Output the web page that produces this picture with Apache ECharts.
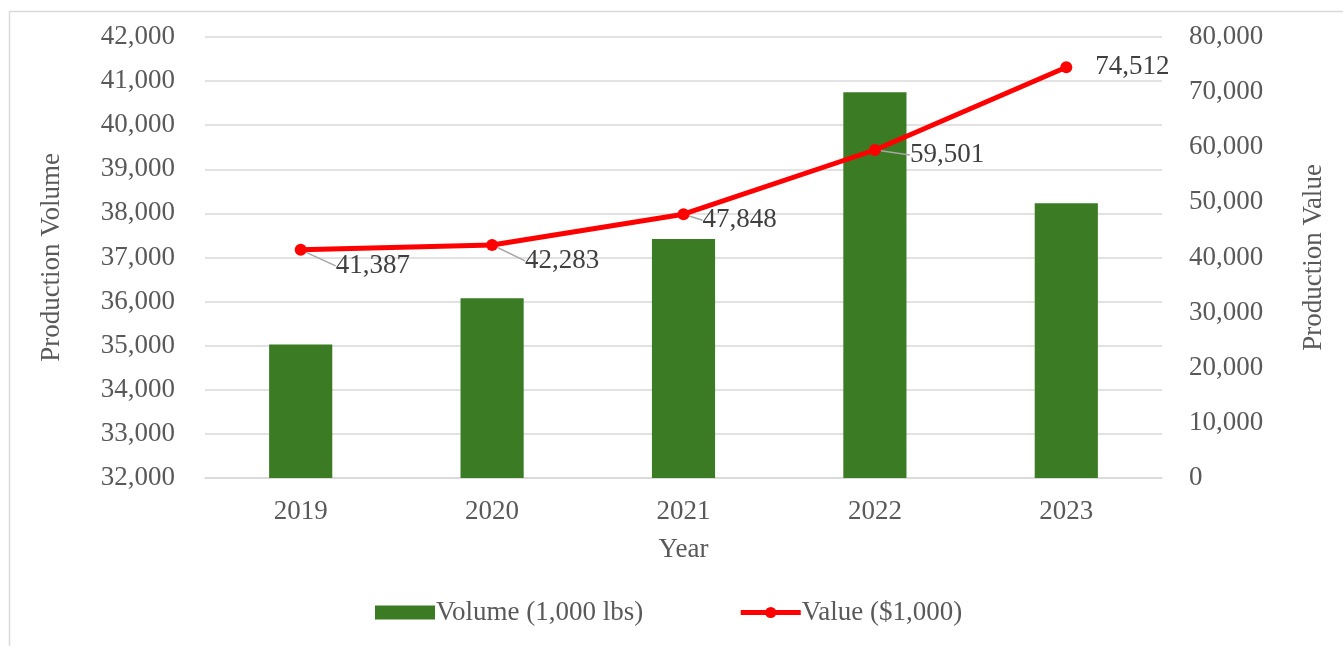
<!DOCTYPE html>
<html>
<head>
<meta charset="utf-8">
<script src="https://cdn.jsdelivr.net/npm/echarts@6/dist/echarts.min.js"></script>
<style>
  html, body { margin: 0; padding: 0; background: #fff; }
  #chart { width: 1343px; height: 646px; }
</style>
</head>
<body>
<div id="chart"></div>
<script>
// chart data
const years = ['2019', '2020', '2021', '2022', '2023']
const volumeValues = [35030, 36075, 37420, 40746, 38229]
const valueValues = [41387, 42283, 47848, 59501, 74512]
const volumeTicks = { min: 32000, max: 42000, interval: 1000 }
const valueTicks = { min: 0, max: 80000, interval: 10000 }

// label nudges (dx, dy) so labels sit like the original
const labelShift = [[24, 16], [22, 16], [8, 6], [24, 5], [18, 0]]

const font = 'Liberation Serif'
const textColor = '#595959'
const fs = 27
const fmt = v => v.toLocaleString('en-US')

const chart = echarts.init(document.getElementById('chart'))

chart.setOption({
  animation: false,
  textStyle: { fontFamily: font },
  graphic: [
    {
      type: 'rect',
      shape: { x: 9.5, y: 11.5, width: 1400, height: 700 },
      style: { fill: 'none', stroke: '#d9d9d9', lineWidth: 1.5 },
      silent: true
    }
  ],
  grid: { left: 205, right: 181, top: 37, bottom: 168 },
  legend: {
    bottom: 15,
    left: 370,
    itemWidth: 60,
    itemHeight: 14,
    itemGap: 95,
    textStyle: { fontFamily: font, fontSize: fs, color: textColor, padding: [0, 0, 0, -4] },
    data: [
      { name: 'Volume (1,000 lbs)', icon: 'rect' },
      { name: 'Value ($1,000)', lineStyle: { color: '#ff0000', width: 5 } }
    ]
  },
  xAxis: {
    type: 'category',
    data: years,
    name: 'Year',
    nameLocation: 'middle',
    nameGap: 58,
    nameTextStyle: { fontFamily: font, fontSize: fs, color: textColor },
    axisLine: { lineStyle: { color: '#d9d9d9', width: 1.5 } },
    axisTick: { show: false },
    axisLabel: { fontFamily: font, fontSize: fs, color: textColor, margin: 20 }
  },
  yAxis: [
    {
      type: 'value',
      min: volumeTicks.min,
      max: volumeTicks.max,
      interval: volumeTicks.interval,
      name: 'Production Volume',
      nameLocation: 'middle',
      nameGap: 140,
      nameTextStyle: { fontFamily: font, fontSize: fs, color: textColor },
      axisLine: { show: false },
      axisTick: { show: false },
      splitLine: { lineStyle: { color: '#d9d9d9', width: 1.5 } },
      axisLabel: { fontFamily: font, fontSize: fs, color: textColor, margin: 30, formatter: fmt }
    },
    {
      type: 'value',
      position: 'right',
      min: valueTicks.min,
      max: valueTicks.max,
      interval: valueTicks.interval,
      name: 'Production Value',
      nameLocation: 'middle',
      nameGap: 138,
      nameRotate: 90,
      nameTextStyle: { fontFamily: font, fontSize: fs, color: textColor },
      axisLine: { show: false },
      axisTick: { show: false },
      splitLine: { show: false },
      axisLabel: { fontFamily: font, fontSize: fs, color: textColor, margin: 27, formatter: fmt }
    }
  ],
  series: [
    {
      name: 'Volume (1,000 lbs)',
      type: 'bar',
      yAxisIndex: 0,
      data: volumeValues,
      barWidth: '33%',
      itemStyle: { color: '#3b7b23' }
    },
    {
      name: 'Value ($1,000)',
      type: 'line',
      yAxisIndex: 1,
      // last label sits right beside its point, without a leader line
      data: valueValues.map((v, i) => (i === valueValues.length - 1 ? { value: v, labelLine: { show: false } } : v)),
      symbol: 'circle',
      symbolSize: 12,
      lineStyle: { color: '#ff0000', width: 5 },
      itemStyle: { color: '#ff0000' },
      label: {
        show: true,
        position: 'right',
        distance: 5,
        fontFamily: font,
        fontSize: fs,
        color: '#404040',
        formatter: p => fmt(p.value)
      },
      labelLine: { show: true, lineStyle: { color: '#a6a6a6', width: 1.5 } },
      labelLayout: p => ({ dx: labelShift[p.dataIndex][0], dy: labelShift[p.dataIndex][1] })
    }
  ]
})
</script>
</body>
</html>
